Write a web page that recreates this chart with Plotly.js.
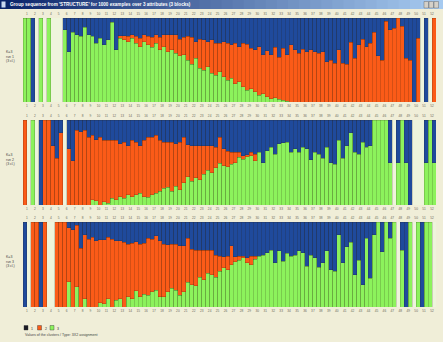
<!DOCTYPE html>
<html><head><meta charset="utf-8">
<script src="https://cdn.plot.ly/plotly-3.0.1.min.js"></script>
<style>html,body{margin:0;padding:0;background:#f0eed8;overflow:hidden}#chart{width:443px;height:342px}</style>
</head><body><div id="chart"></div>
<script>
// ---- data: membership proportions (%) per individual, three runs ----
const clusterNames = ['Cluster 1', 'Cluster 2', 'Cluster 3'];

const green1 = [100,100,0,0,100,0,100,0,0,0, 86,60,83,80,78,89,80,78,70,76, 68,74,95,62,76,74,72,76,70,66, 72,68,65,70,62,66,60,62,58,55, 56,50,45,52,40,38,42,34,32,36, 30,26,28,22,24,18,14,16,12,8, 10,6,4,5,3,2,1,0,0,0, 0,0,0,0,0,0,0,0,0,0, 0,0,0,0,0,0,0,0,0,0, 0,0,0,0,0,0,0,0,0,0, 0,0,0,0];
const orange1 = [0,0,0,0,0,0,0,0,0,0, 0,0,0,0,0,0,0,0,0,0, 0,0,0,0,3,5,6,4,8,10, 8,10,12,10,15,14,20,18,22,20, 21,28,32,20,35,36,30,40,38,34, 42,44,40,48,42,52,55,48,50,58, 46,55,52,60,50,62,55,68,62,58, 63,60,62,60,58,60,48,50,46,62, 46,45,71,52,68,75,66,70,83,55, 50,96,86,88,100,90,52,50,0,76, 0,0,0,100];
const blue1 = [0,0,100,0,0,0,0,0,0,0, 14,40,17,20,22,11,20,22,30,24, 32,26,5,38,21,21,22,20,22,24, 20,22,23,20,23,20,20,20,20,25, 23,22,23,28,25,26,28,26,30,30, 28,30,32,30,34,30,31,36,38,34, 44,39,44,35,47,36,44,32,38,42, 37,40,38,40,42,40,52,50,54,38, 54,55,29,48,32,25,34,30,17,45, 50,4,14,12,0,10,48,50,100,24, 0,100,0,0];

const green2 = [0,0,100,0,0,0,0,0,0,0, 0,0,0,0,0,0,0,6,5,0, 4,2,8,6,10,8,12,10,12,14, 10,9,12,14,16,20,21,16,22,18, 26,33,28,32,30,36,41,38,44,49, 46,45,48,50,56,54,57,58,52,62, 50,64,68,60,72,73,74,62,66,62, 68,66,53,62,60,55,68,50,48,76, 55,70,85,62,60,74,68,70,100,100, 100,100,50,0,50,100,50,0,0,0, 0,50,100,50];
const orange2 = [100,0,0,0,0,100,100,70,55,85, 0,66,52,88,86,88,80,76,72,80, 72,74,68,70,62,66,58,66,62,56, 66,71,68,68,60,54,53,58,50,56, 54,38,42,38,40,34,29,32,24,31, 20,18,14,12,6,4,2,4,8,0, 0,0,0,0,0,0,0,0,0,0, 0,0,0,0,0,0,0,0,0,0, 0,0,0,0,0,0,0,0,0,0, 0,0,0,0,0,0,0,0,0,0, 0,0,0,0];
const blue2 = [0,0,0,0,100,0,0,30,45,15, 0,34,48,12,14,12,20,18,23,20, 24,24,24,24,28,26,30,24,26,30, 24,20,20,18,24,26,26,26,28,26, 20,29,30,30,30,30,30,30,32,20, 34,37,38,38,38,42,41,38,40,38, 50,36,32,40,28,27,26,38,34,38, 32,34,47,38,40,45,32,50,52,24, 45,30,15,38,40,26,32,30,0,0, 0,0,50,0,50,0,50,100,0,0, 0,50,0,50];

const green3 = [0,0,0,0,0,0,0,0,0,0, 0,30,0,24,0,10,0,0,0,5, 4,10,0,8,10,0,12,10,19,12, 15,14,18,20,12,12,18,22,20,14, 18,29,26,25,35,32,40,38,35,42, 46,44,50,53,55,58,52,50,56,60, 61,64,67,52,66,54,63,60,61,66, 64,48,61,58,47,52,66,44,42,85, 52,71,76,38,55,26,81,34,85,100, 65,100,81,100,0,67,0,100,0,100, 0,100,100,0];
const orange3 = [0,0,100,100,0,100,0,0,100,100, 100,63,91,72,69,75,80,82,78,74, 75,72,80,70,68,76,62,65,58,62, 60,67,62,64,66,62,55,52,54,58, 54,52,42,42,32,35,27,29,26,18, 13,16,22,6,5,2,6,10,4,0, 0,0,0,0,0,0,0,0,0,0, 0,0,0,0,0,0,0,0,0,0, 0,0,0,0,0,0,0,0,0,0, 0,0,0,0,0,0,0,0,0,0, 0,0,0,0];
const blue3 = [100,0,0,0,100,0,0,0,0,0, 0,7,9,4,31,15,20,18,22,21, 21,18,20,22,22,24,26,25,23,26, 25,19,20,16,22,26,27,26,26,28, 28,19,32,33,33,33,33,33,39,40, 41,40,28,41,40,40,42,40,40,40, 39,36,33,48,34,46,37,40,39,34, 36,52,39,42,53,48,34,56,58,15, 48,29,24,62,45,74,19,66,15,0, 35,0,19,0,0,33,100,0,0,0, 100,0,0,0];

const tickLabels = ['1','2','3','4','5','6','7','8','9','10','11','12','13','14','15','16','17','18','19','20','21','22','23','24','25','26','27','28','29','30','31','32','33','34','35','36','37','38','39','40','41','42','43','44','45','46','47','48','49','50','51','52'];
const runLabels = ['K=3<br>run 1<br>(3 cl.)', 'K=3<br>run 2<br>(3 cl.)', 'K=3<br>run 3<br>(3 cl.)'];
const legendLabels = ['1', '2', '3'];
const titleText = "Group sequence from 'STRUCTURE' for 1000 examples over 3 attributes (3 blocks)";
const footText = 'Values of the clusters / Type: 3X2 assignment';

// ---- styling ----
const W = 443, H = 342;
const px = x => x / W, py = y => 1 - y / H;
const colors = { g: '#8cf25c', o: '#fb5b18', b: '#1f4a9c' };
const outline = { color: 'rgba(40,30,10,0.6)', width: 0.3 };
const nBars = green1.length;
const idx = green1.map((_, i) => i);
const tickIdx = tickLabels.map((_, i) => i * 2 + 0.5);
const nz = arr => arr.map(v => (v === 0 ? null : v));

const panels = [
  { g: green1, o: orange1, b: blue1, top: 18, bottom: 102 },
  { g: green2, o: orange2, b: blue2, top: 120, bottom: 205 },
  { g: green3, o: orange3, b: blue3, top: 222, bottom: 307 }
];

const traces = [];
const layout = {
  width: W, height: H,
  margin: { l: 0, r: 0, t: 0, b: 0 },
  paper_bgcolor: '#f0eed8', plot_bgcolor: '#eef4dc',
  barmode: 'stack', bargap: 0,
  showlegend: false,
  font: { family: 'Liberation Sans, Arial, sans-serif', size: 5, color: '#333' },
  shapes: [], annotations: []
};

function xAxis(anchor, extra) {
  return Object.assign({
    domain: [px(23), px(436)], range: [-0.5, nBars - 0.5], anchor: anchor,
    tickmode: 'array', tickvals: tickIdx, ticktext: tickLabels,
    tickfont: { size: 3.2, color: '#6a6a5a' }, ticks: '', ticklabelstandoff: 1,
    showgrid: false, zeroline: false, showline: false, tickangle: 0, fixedrange: true
  }, extra || {});
}

panels.forEach((p, k) => {
  const xa = k === 0 ? 'x' : 'x' + (k + 1);
  const ya = k === 0 ? 'y' : 'y' + (k + 1);
  [['g', clusterNames[2]], ['o', clusterNames[1]], ['b', clusterNames[0]]].forEach(([key, name]) => {
    traces.push({
      type: 'bar', x: idx, y: nz(p[key]), xaxis: xa, yaxis: ya, name: name,
      marker: { color: colors[key], line: outline }, hoverinfo: 'skip'
    });
  });
  const xo = 'x' + (k + 4);
  traces.push({ type: 'scatter', x: [], y: [], xaxis: xo, yaxis: ya, showlegend: false });
  layout[k === 0 ? 'xaxis' : 'xaxis' + (k + 1)] = xAxis(ya);
  layout['xaxis' + (k + 4)] = xAxis(ya, { overlaying: xa, side: 'top' });
  layout[k === 0 ? 'yaxis' : 'yaxis' + (k + 1)] = {
    domain: [py(p.bottom), py(p.top)], range: [0, 100], anchor: xa,
    showticklabels: false, showgrid: false, zeroline: false, ticks: '', fixedrange: true
  };
  layout.annotations.push({
    xref: 'paper', yref: 'paper', x: px(4), y: py((p.top + p.bottom) / 2 - 3),
    xanchor: 'left', yanchor: 'middle', align: 'left', showarrow: false,
    text: runLabels[k], font: { size: 3.5, color: '#444' }
  });
});

// window title bar (gradient as strips)
const nStrip = 40;
const c0 = [10, 36, 106], c1 = [166, 202, 240];
for (let s = 0; s < nStrip; s++) {
  const t = s / (nStrip - 1);
  const c = c0.map((v, j) => Math.round(v + (c1[j] - v) * t));
  layout.shapes.push({
    type: 'rect', xref: 'paper', yref: 'paper', layer: 'above',
    x0: s / nStrip, x1: (s + 1) / nStrip + 0.002, y0: py(9), y1: py(0),
    line: { width: 0 }, fillcolor: `rgb(${c[0]},${c[1]},${c[2]})`
  });
}
[[424, 429], [429, 434], [434, 439]].forEach(([a, b]) => {
  layout.shapes.push({
    type: 'rect', xref: 'paper', yref: 'paper', layer: 'above',
    x0: px(a), x1: px(b - 0.5), y0: py(8), y1: py(1.5),
    line: { width: 0.4, color: '#555' }, fillcolor: '#d4d0c8'
  });
});
layout.shapes.push({
  type: 'rect', xref: 'paper', yref: 'paper', layer: 'above',
  x0: px(1.5), x1: px(5.5), y0: py(7.5), y1: py(1.5),
  line: { width: 0 }, fillcolor: '#c8d8f0'
});
layout.annotations.push({
  xref: 'paper', yref: 'paper', x: px(8), y: py(4.6), xanchor: 'left', yanchor: 'middle',
  showarrow: false, text: '<b>' + titleText + '</b>', font: { size: 4.6, color: '#ffffff' }
});

// legend swatches
const swatch = ['#1a1a24', colors.o, colors.g];
[24, 37.5, 50].forEach((x, i) => {
  layout.shapes.push({
    type: 'rect', xref: 'paper', yref: 'paper',
    x0: px(x), x1: px(x + 4), y0: py(330), y1: py(325.5),
    line: { width: 0.4, color: '#333' }, fillcolor: swatch[i]
  });
  layout.annotations.push({
    xref: 'paper', yref: 'paper', x: px(x + 5), y: py(328.5), xanchor: 'left', yanchor: 'middle',
    showarrow: false, text: legendLabels[i], font: { size: 3.5, color: '#333' }
  });
});
layout.annotations.push({
  xref: 'paper', yref: 'paper', x: px(23), y: py(335), xanchor: 'left', yanchor: 'middle',
  showarrow: false, text: footText, font: { size: 3.6, color: '#444' }
});

Plotly.newPlot('chart', traces, layout, { staticPlot: true, displayModeBar: false });
</script>
</body></html>
